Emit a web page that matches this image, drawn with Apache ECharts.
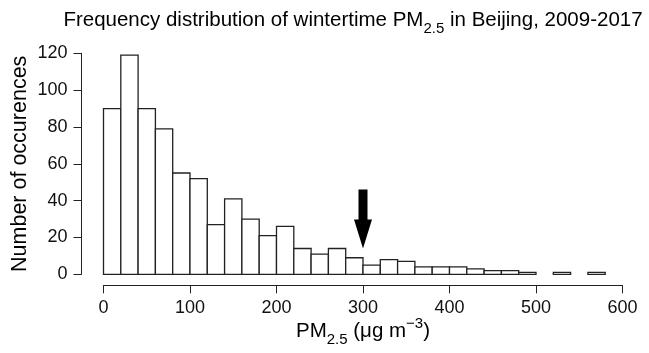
<!DOCTYPE html>
<html>
<head>
<meta charset="utf-8">
<script src="https://cdn.jsdelivr.net/npm/echarts@6/dist/echarts.min.js"></script>
<style>
    html, body { margin: 0; padding: 0; background: #fff; }
    #chart { width: 649px; height: 353px; }
</style>
</head>
<body>
<div id="chart"></div>
<script>
    // histogram bins (lower edge, ug/m3) and counts
    var binWidth = 20;
    var binStarts = [0, 20, 40, 60, 80, 100, 120, 140, 160, 180, 200, 220, 240, 260, 280,
                     300, 320, 340, 360, 380, 400, 420, 440, 460, 480, 500, 520, 540, 560];
    var counts = [90, 119, 90, 79, 55, 52, 27, 41, 30, 21, 26, 14, 11, 14, 9,
                  5, 8, 7, 4, 4, 4, 3, 2, 2, 1, 0, 1, 0, 1];
    var xTicks = [0, 100, 200, 300, 400, 500, 600];
    var yTicks = [0, 20, 40, 60, 80, 100, 120];
    // arrow marking 300 ug/m3
    var arrowX = 300;
    var arrowFrom = 46;
    var arrowTo = 14;

    var FONT = 'Liberation Sans';
    var chart = echarts.init(document.getElementById('chart'));

    var histData = [];
    for (var i = 0; i < binStarts.length; i++) {
        histData.push([binStarts[i], binStarts[i] + binWidth, counts[i]]);
    }

    function rich(size) {
        return {
            a: { fontSize: size, fontFamily: FONT, fontWeight: 'normal', color: '#000', padding: [5, 0, 5, 0] },
            s: { fontSize: Math.round(size * 0.72), fontFamily: FONT, fontWeight: 'normal', color: '#000', verticalAlign: 'bottom' },
            p: { fontSize: Math.round(size * 0.72), fontFamily: FONT, fontWeight: 'normal', color: '#000', verticalAlign: 'top' }
        };
    }

    chart.setOption({
        animation: false,
        title: {
            text: '{a|Frequency distribution of wintertime PM}{s|2.5}{a| in Beijing, 2009-2017}',
            left: 348,
            textAlign: 'center',
            top: 0,
            textStyle: { fontWeight: 'normal', rich: rich(20.5) }
        },
        grid: { left: 103.5, right: 26.5, top: 53.3, bottom: 78.7, outerBoundsMode: 'none' },
        xAxis: {
            type: 'value',
            min: xTicks[0],
            max: xTicks[xTicks.length - 1],
            interval: 100,
            offset: 11,
            name: '{a|PM}{s|2.5}{a| (μg m}{p|−3}{a|)}',
            nameLocation: 'middle',
            nameGap: 31,
            nameMoveOverlap: false,
            nameTextStyle: { rich: rich(20.5) },
            axisLine: { show: true, onZero: false, lineStyle: { color: '#222', width: 1 } },
            axisTick: { show: true, length: 8, lineStyle: { color: '#222' } },
            axisLabel: { fontSize: 18, fontFamily: FONT, color: '#111', margin: 14 },
            splitLine: { show: false }
        },
        yAxis: {
            type: 'value',
            min: yTicks[0],
            max: yTicks[yTicks.length - 1],
            interval: 20,
            offset: 22,
            name: 'Number of occurences',
            nameLocation: 'middle',
            nameRotate: 90,
            nameGap: 50,
            nameMoveOverlap: false,
            nameTextStyle: { fontSize: 21.5, fontFamily: FONT, color: '#000' },
            axisLine: { show: true, onZero: false, lineStyle: { color: '#222', width: 1 } },
            axisTick: { show: true, length: 8, lineStyle: { color: '#222' } },
            axisLabel: { fontSize: 18, fontFamily: FONT, color: '#111', margin: 14 },
            splitLine: { show: false }
        },
        series: [
            {
                type: 'custom',
                data: histData,
                encode: { x: [0, 1], y: 2 },
                renderItem: function (params, api) {
                    var n = api.value(2);
                    if (!n) return null;
                    var p0 = api.coord([api.value(0), n]);
                    var p1 = api.coord([api.value(1), 0]);
                    return {
                        type: 'rect',
                        shape: { x: p0[0], y: p0[1], width: p1[0] - p0[0], height: p1[1] - p0[1] },
                        style: { fill: '#fff', stroke: '#222', lineWidth: 1.3 }
                    };
                }
            },
            {
                type: 'custom',
                data: [[arrowX, arrowFrom, arrowTo]],
                renderItem: function (params, api) {
                    var top = api.coord([api.value(0), api.value(1)]);
                    var tip = api.coord([api.value(0), api.value(2)]);
                    var x = tip[0], hw = 4.5, headW = 9, headL = 29;
                    return {
                        type: 'polygon',
                        shape: {
                            points: [
                                [x - hw, top[1]], [x + hw, top[1]],
                                [x + hw, tip[1] - headL], [x + headW, tip[1] - headL],
                                [x, tip[1]],
                                [x - headW, tip[1] - headL], [x - hw, tip[1] - headL]
                            ]
                        },
                        style: { fill: '#000' }
                    };
                }
            }
        ]
    });
</script>
</body>
</html>
